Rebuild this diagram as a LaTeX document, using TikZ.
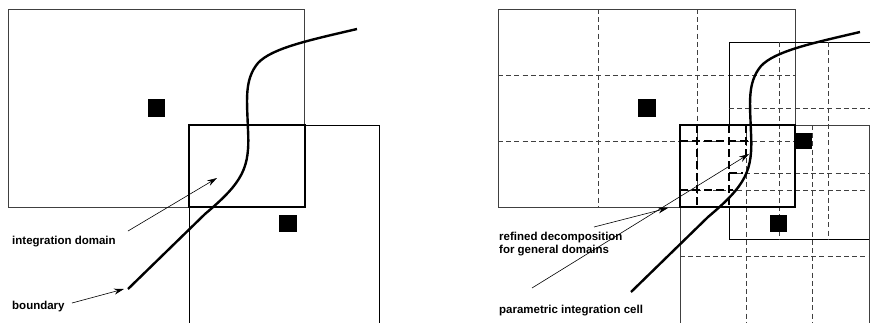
\documentclass[tikz,border=0pt]{standalone}
\usepackage{fontspec}
\setmainfont{Liberation Sans}
\usetikzlibrary{arrows.meta}
\begin{document}
\begin{tikzpicture}[x=1pt,y=-1pt,
  thinrect/.style={draw=black!75,line width=0.8pt},
  blackrect/.style={draw=black,line width=0.7pt},
  thickrect/.style={draw=black,line width=2.3pt},
  griddash/.style={draw=black!75,line width=0.8pt,dash pattern=on 5pt off 3.2pt},
  bolddash/.style={draw=black,line width=2pt,dash pattern=on 8pt off 4pt},
  bcurve/.style={draw=black,line width=2.4pt},
  marker/.style={fill=black},
  ptr/.style={draw=black,line width=0.6pt,-{Stealth[length=10pt,width=6pt]}},
  lbl/.style={font=\fontsize{11.5}{13}\selectfont\bfseries,anchor=base west,inner sep=0pt}]
\useasboundingbox (0,0) rectangle (870,322);
\clip (0,0) rectangle (870,322);

% ---------------- left panel ----------------
\draw[thinrect] (8,9) rectangle (304,207);
\draw[blackrect] (189,325) -- (189,125) -- (379,125) -- (379,325);
\draw[thickrect] (189,125) rectangle (305,207);
\draw[bcurve] (128,289) -- (205,214) .. controls (243,182) and (250,168) .. (248,130)
  .. controls (247,100) and (244,80) .. (258,63) .. controls (272,48) and (310,40) .. (357,29);
\fill[marker] (148,99) rectangle (165,117);
\fill[marker] (279,215) rectangle (297,232);

\coordinate (a1s) at (128,231);
\coordinate (a1e) at (217,178);
\coordinate (a2s) at (72,303);
\coordinate (a2e) at (124,289);
\draw[ptr] (a1s) -- (a1e);
\draw[ptr] (a2s) -- (a2e);
\node[lbl] (t1) at (12,244) {integration domain};
\node[lbl] (t2) at (12,309) {boundary};

% ---------------- right panel ----------------
% rect 1 (3x3 grid)
\draw[thinrect] (498,9) rectangle (795,207);
\draw[griddash] (598,9) -- (598,207);
\draw[griddash] (697,9) -- (697,207);
\draw[griddash] (498,75) -- (795,75);
\draw[griddash] (498,141) -- (795,141);
% rect 2
\draw[blackrect] (729,125) -- (729,42) -- (880,42);
\draw[blackrect] (729,207) -- (729,239) -- (880,239);
\draw[griddash] (779,42) -- (779,239);
\draw[griddash] (828,42) -- (828,239);
\draw[griddash] (729,108) -- (870,108);
\draw[griddash] (729,173) -- (870,173);
% rect 3
\draw[thinrect] (680,325) -- (680,125) -- (869,125) -- (869,325);
\draw[griddash] (746,125) -- (746,322);
\draw[griddash] (812,125) -- (812,322);
\draw[griddash] (680,190) -- (869,190);
\draw[griddash] (680,256) -- (869,256);
% thick integration domain
\draw[thickrect] (680,125) rectangle (795,207);
% refined decomposition
\draw[bolddash] (697,125) -- (697,207);
\draw[bolddash] (729,125) -- (729,207);
\draw[bolddash] (746,125) -- (746,155);
\draw[bolddash] (680,141) -- (748,141);
\draw[bolddash] (729,173) -- (743,173);
\draw[bolddash] (680,190) -- (733,190);
% boundary curve
\draw[bcurve] (631,292) -- (708,217) .. controls (746,185) and (753,171) .. (751,133)
  .. controls (750,103) and (747,83) .. (761,66) .. controls (775,51) and (813,43) .. (860,32);
% markers
\fill[marker] (638,99) rectangle (656,117);
\fill[marker] (795,133) rectangle (812,149);
\fill[marker] (770,215) rectangle (787,232);

\coordinate (a3s) at (594,227);
\coordinate (a3e) at (668,208);
\coordinate (a4s) at (532,288);
\coordinate (a4e) at (749,154);
\draw[ptr] (a3s) -- (a3e);
\draw[ptr] (a4s) -- (a4e);
\node[lbl] (t3) at (499,240) {refined decomposition};
\node[lbl] (t4) at (499,253) {for general domains};
\node[lbl] (t5) at (499,313) {parametric integration cell};
\end{tikzpicture}
\end{document}
